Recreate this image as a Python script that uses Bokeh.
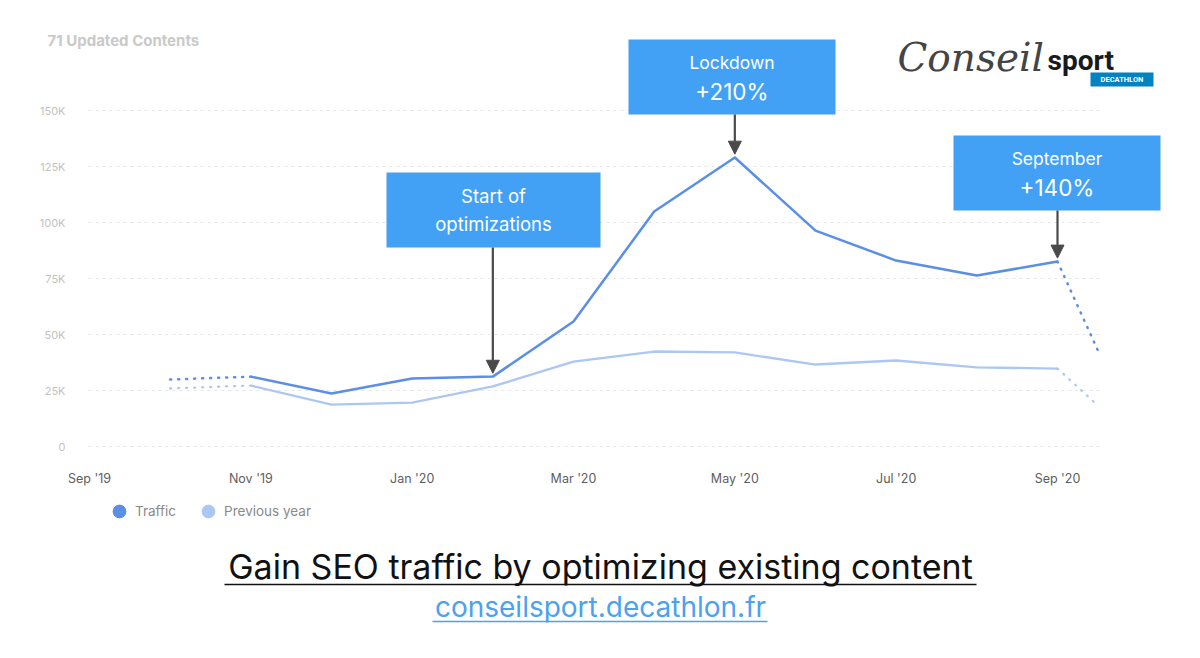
from bokeh.plotting import figure
from bokeh.models import (Range1d, Label, Arrow, NormalHead, BoxAnnotation, Legend, LegendItem,
                          FixedTicker)
from bokeh.embed import file_html
from bokeh.resources import INLINE

# ---------------- data ----------------
month_labels = ["Sep '19", "Nov '19", "Jan '20", "Mar '20", "May '20", "Jul '20", "Sep '20"]
month_ticks = [0, 2, 4, 6, 8, 10, 12]
y_ticks = [0, 25000, 50000, 75000, 100000, 125000, 150000]
y_tick_labels = ["0", "25K", "50K", "75K", "100K", "125K", "150K"]

# month index: 0 = Sep '19 ... 12 = Sep '20, 12.5 = partial Oct '20
months = [1, 2, 3, 4, 5, 6, 7, 8, 9, 10, 11, 12, 12.5]
traffic = [29900, 31200, 23700, 30400, 31200, 55800, 104900, 129000, 96400, 83000, 76300, 82600, 42900]
previous = [25900, 27200, 18700, 19600, 26800, 37900, 42400, 42000, 36600, 38400, 35300, 34800, 18300]

callouts = [("Start of\noptimizations", None, 5), ("Lockdown", "+210%", 8), ("September", "+140%", 12)]

# ---------------- geometry (frame = whole canvas) ----------------
W, H = 1184, 642
SX = 968 / 12.0          # px per month
SY = 336 / 150000.0      # px per visit
PX0, PY0 = 89, 446       # canvas px of (0, 0)


def dx(px):
    return (px - PX0) / SX


def dy(py):
    return (PY0 - py) / SY


C_TRAFFIC = "#5b8ee6"
C_PREV = "#adc7f3"
C_BOX = "#42a1f5"
C_ARROW = "#4a4a4a"
FONT = "Inter"

p = figure(width=W, height=H, output_backend="svg", toolbar_location=None,
           x_range=Range1d(dx(0), dx(W)), y_range=Range1d(dy(H), dy(0)),
           min_border_left=0, min_border_right=0, min_border_top=0, min_border_bottom=0)
p.outline_line_color = None
p.background_fill_color = "white"
p.border_fill_color = "white"

# axes, drawn inside the frame at fixed locations
p.xaxis.fixed_location = 0
p.xaxis.ticker = FixedTicker(ticks=month_ticks)
p.xaxis.major_label_overrides = {t: l for t, l in zip(month_ticks, month_labels)}
p.xaxis.axis_line_color = None
p.xaxis.major_tick_line_color = None
p.xaxis.minor_tick_line_color = None
p.xaxis.major_label_standoff = 18
p.xaxis.major_label_text_font = FONT
p.xaxis.major_label_text_font_size = "12.5px"
p.xaxis.major_label_text_color = "#5e5e5e"

p.yaxis.fixed_location = dx(88)
p.yaxis.ticker = FixedTicker(ticks=y_ticks)
p.yaxis.major_label_overrides = {t: l for t, l in zip(y_ticks, y_tick_labels)}
p.yaxis.axis_line_color = None
p.yaxis.major_tick_line_color = None
p.yaxis.minor_tick_line_color = None
p.yaxis.major_label_standoff = 17
p.yaxis.major_label_text_font = FONT
p.yaxis.major_label_text_font_size = "11px"
p.yaxis.major_label_text_color = "#c2c2c2"

p.xgrid.grid_line_color = None
p.ygrid.grid_line_color = None
# horizontal dashed grid lines limited to the plotting area
p.segment(x0=[dx(88)] * len(y_ticks), x1=[dx(1100)] * len(y_ticks), y0=y_ticks, y1=y_ticks,
          line_color="#e6e6e6", line_dash="3 4", line_width=1)

# lines: dotted head / solid / dotted tail
for vals, color, w in [(previous, C_PREV, 2.3), (traffic, C_TRAFFIC, 2.5)]:
    p.line(months[0:2], vals[0:2], line_color=color, line_width=w, line_dash="1 7", line_cap="round")
    p.line(months[1:12], vals[1:12], line_color=color, line_width=w, line_join="round")
    p.line(months[11:13], vals[11:13], line_color=color, line_width=w, line_dash="1 7", line_cap="round")

# legend (hidden marker renderers only supply the legend glyphs)
r_t = p.scatter([months[1]], [traffic[1]], size=12, fill_color=C_TRAFFIC, line_color=C_TRAFFIC, visible=False)
r_p = p.scatter([months[1]], [previous[1]], size=12, fill_color=C_PREV, line_color=C_PREV, visible=False)
legend = Legend(items=[LegendItem(label="Traffic", renderers=[r_t]),
                       LegendItem(label="Previous year", renderers=[r_p])],
                location=(103, H - 527), orientation="horizontal",
                glyph_width=32, glyph_height=32, label_standoff=0, spacing=16,
                padding=0, margin=0, border_line_color=None, background_fill_alpha=0,
                label_text_font=FONT, label_text_font_size="13.5px", label_text_color="#8a8a8a")
p.add_layout(legend, "center")

# callout boxes  (left, right, top, bottom in canvas px)
boxes = [(386, 600, 172, 247), (628, 835, 39, 114), (953, 1160, 135, 210)]
arrow_tops = [247, 114, 210]
for (l, r, t, b), (line1, line2, mi), at in zip(boxes, callouts, arrow_tops):
    p.add_layout(BoxAnnotation(left=dx(l), right=dx(r), top=dy(t), bottom=dy(b),
                               fill_color=C_BOX, fill_alpha=1, line_color=None, level="overlay"))
    cx = dx((l + r) / 2)
    if line2 is None:
        p.add_layout(Label(x=cx, y=dy((t + b) / 2), text=line1, text_align="center",
                           text_baseline="middle", text_font=FONT, text_font_size="18.5px",
                           text_color="white", text_line_height=1.3, level="overlay"))
    else:
        p.add_layout(Label(x=cx, y=dy(t + 23), text=line1, text_align="center",
                           text_baseline="middle", text_font=FONT, text_font_size="17.5px",
                           text_color="white", level="overlay"))
        p.add_layout(Label(x=cx, y=dy(t + 52), text=line2, text_align="center",
                           text_baseline="middle", text_font=FONT, text_font_size="22.5px",
                           text_color="white", level="overlay"))
    i = months.index(mi)
    p.add_layout(Arrow(end=NormalHead(size=13, fill_color=C_ARROW, line_color=C_ARROW),
                       x_start=months[i], y_start=dy(at), x_end=months[i], y_end=traffic[i] + 1500,
                       line_color=C_ARROW, line_width=2.2, level="overlay"))

# header text
p.add_layout(Label(x=dx(47), y=dy(40), text="71 Updated Contents", text_baseline="middle",
                   text_font=FONT, text_font_size="15px", text_font_style="bold", text_color="#c9c9c9"))

# logo
p.add_layout(Label(x=dx(897), y=dy(57), text="Conseil", text_baseline="middle",
                   text_font="DejaVu Serif", text_font_size="39px", text_font_style="italic",
                   text_color="#444444"))
p.add_layout(Label(x=dx(1047), y=dy(60), text="sport", text_baseline="middle",
                   text_font="Roboto", text_font_size="28px", text_font_style="bold",
                   text_color="#1a1a1a"))
p.add_layout(BoxAnnotation(left=dx(1090), right=dx(1153), top=dy(72), bottom=dy(86),
                           fill_color="#0082c3", fill_alpha=1, line_color=None, level="overlay"))
p.add_layout(Label(x=dx(1121.5), y=dy(79), text="DECATHLON", text_align="center",
                   text_baseline="middle", text_font="Roboto", text_font_size="7.5px",
                   text_font_style="bold", text_color="white", level="overlay"))

# footer title and link with underline
p.add_layout(Label(x=dx(600), y=dy(566), text="Gain SEO traffic by optimizing existing content",
                   text_align="center", text_baseline="middle", text_font=FONT,
                   text_font_size="34px", text_color="#111111"))
p.add_layout(Arrow(start=None, end=None, x_start=dx(224), y_start=dy(584), x_end=dx(976),
                   y_end=dy(584), line_color="#111111", line_width=1.6))
p.add_layout(Label(x=dx(600), y=dy(606), text="conseilsport.decathlon.fr",
                   text_align="center", text_baseline="middle", text_font=FONT,
                   text_font_size="28px", text_color="#4aa2f0"))
p.add_layout(Arrow(start=None, end=None, x_start=dx(432), y_start=dy(621), x_end=dx(767),
                   y_end=dy(621), line_color="#4aa2f0", line_width=1.3))

open("out.html", "w").write(file_html(p, INLINE))
